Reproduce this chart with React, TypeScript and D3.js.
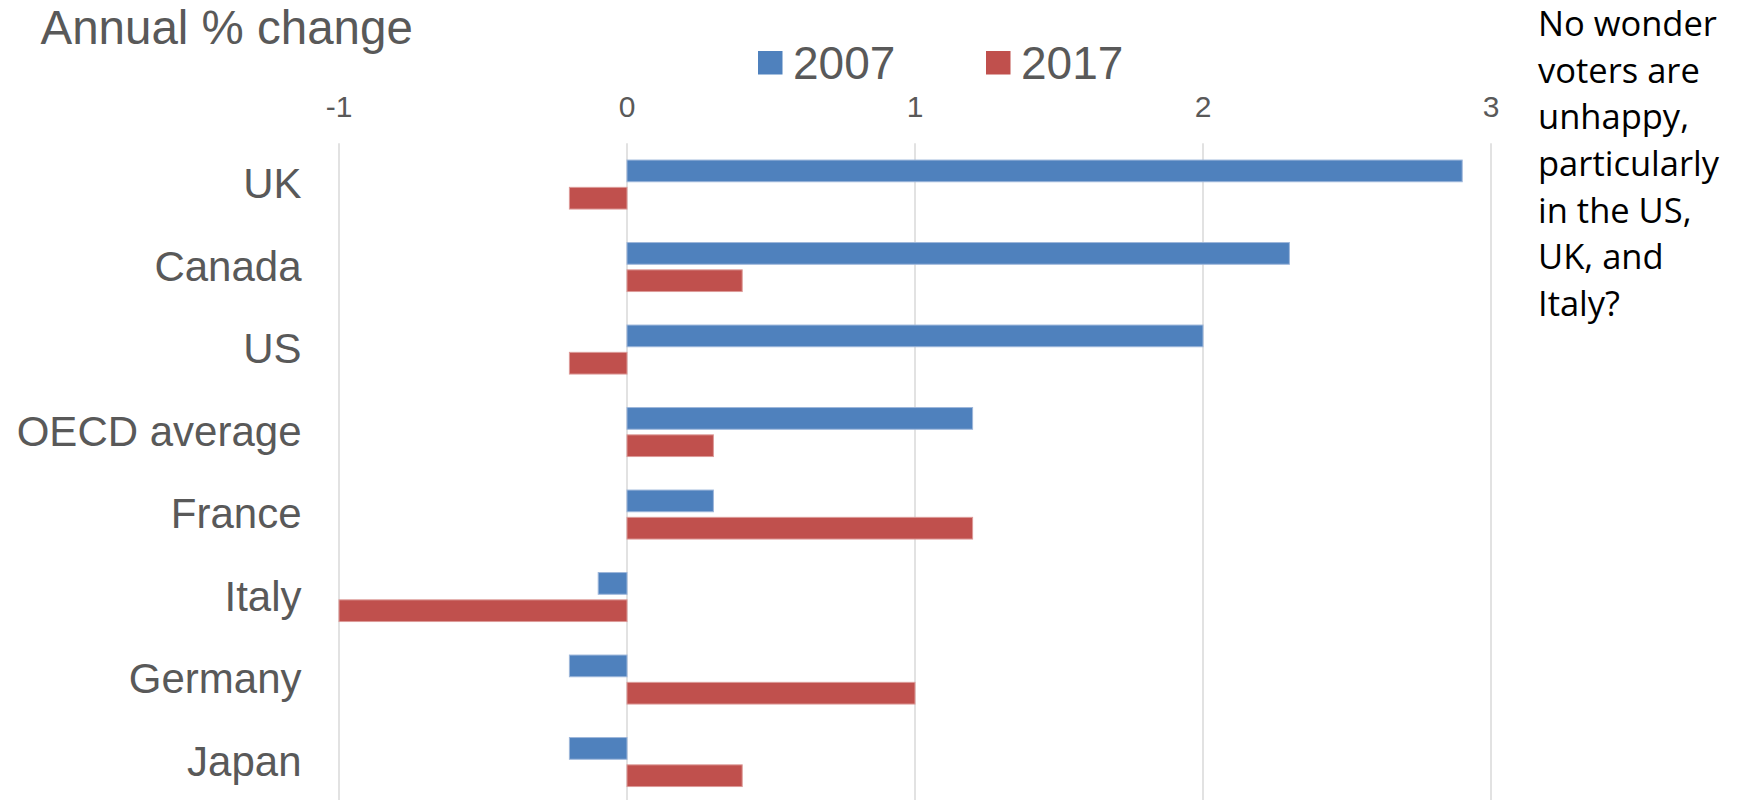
import React from "react";
import * as d3 from "d3";

const categories = ["UK", "Canada", "US", "OECD average", "France", "Italy", "Germany", "Japan"];
const seriesNames = ["2007", "2017"];
const values2007 = [2.9, 2.3, 2.0, 1.2, 0.3, -0.1, -0.2, -0.2];
const values2017 = [-0.2, 0.4, -0.2, 0.3, 1.2, -1.0, 1.0, 0.4];
const tickValues = [-1, 0, 1, 2, 3];
const colors = ["#4F81BD", "#C0504D"];
const noteLines = ["No wonder", "voters are", "unhappy,", "particularly", "in the US,", "UK, and", "Italy?"];

const W = 1741;
const H = 800;
const TEXT = "#595959";
const FONT = "'Liberation Sans', Arial, sans-serif";

export default function App() {
  const x = d3.scaleLinear().domain([-1, 3]).range([339, 1491]);
  const y = d3
    .scaleBand<string>()
    .domain(categories)
    .range([143.3, 803.3])
    .paddingInner(0.406)
    .paddingOuter(0.203);
  const sub = d3
    .scaleBand<string>()
    .domain(seriesNames)
    .range([0, y.bandwidth()])
    .paddingInner(0.205);

  const series = [values2007, values2017];

  return (
    <svg
      width={W}
      height={H}
      style={{ position: "absolute", left: 0, top: 0, background: "#fff" }}
    >
      <rect x={0} y={0} width={W} height={H} fill="#fff" />
      {/* gridlines */}
      {tickValues.map((t) => (
        <line
          key={"g" + t}
          x1={x(t)}
          x2={x(t)}
          y1={143.3}
          y2={H}
          stroke="#D9D9D9"
          strokeWidth={1.5}
        />
      ))}
      {/* tick labels */}
      {tickValues.map((t) => (
        <text
          key={"t" + t}
          x={x(t)}
          y={116.5}
          textAnchor="middle"
          fontFamily={FONT}
          fontSize={30}
          fill={TEXT}
        >
          {t}
        </text>
      ))}
      {/* bars */}
      {categories.map((c, i) => (
        <g key={c} transform={`translate(0,${y(c)})`}>
          {series.map((vals, s) => {
            const v = vals[i];
            const x0 = x(Math.min(0, v));
            const x1 = x(Math.max(0, v));
            return (
              <rect
                key={s}
                x={x0}
                y={sub(seriesNames[s])}
                width={x1 - x0}
                height={sub.bandwidth()}
                fill={colors[s]}
                stroke={s === 0 ? "#9DB6DA" : "#DC9A98"}
                strokeWidth={1}
              />
            );
          })}
        </g>
      ))}
      {/* category labels */}
      {categories.map((c) => (
        <text
          key={"l" + c}
          x={301.5}
          y={(y(c) as number) + y.bandwidth() / 2 + 13.6}
          textAnchor="end"
          fontFamily={FONT}
          fontSize={42}
          fill={TEXT}
        >
          {c}
        </text>
      ))}
      {/* title */}
      <text x={40.5} y={44.3} fontFamily={FONT} fontSize={47.5} fill={TEXT}>
        Annual % change
      </text>
      {/* legend */}
      {seriesNames.map((n, s) => {
        const lx = s === 0 ? 758 : 986;
        return (
          <g key={"lg" + n}>
            <rect x={lx} y={51} width={24.5} height={23.5} fill={colors[s]} />
            <text x={lx + 35} y={79.3} fontFamily={FONT} fontSize={46} fill={TEXT}>
              {n}
            </text>
          </g>
        );
      })}
      {/* note */}
      {noteLines.map((l, i) => (
        <text
          key={"n" + i}
          x={1538}
          y={36 + i * 46.67}
          fontFamily="'Open Sans', 'Noto Sans', sans-serif"
          fontSize={34.5}
          fill="#000"
        >
          {l}
        </text>
      ))}
    </svg>
  );
}
